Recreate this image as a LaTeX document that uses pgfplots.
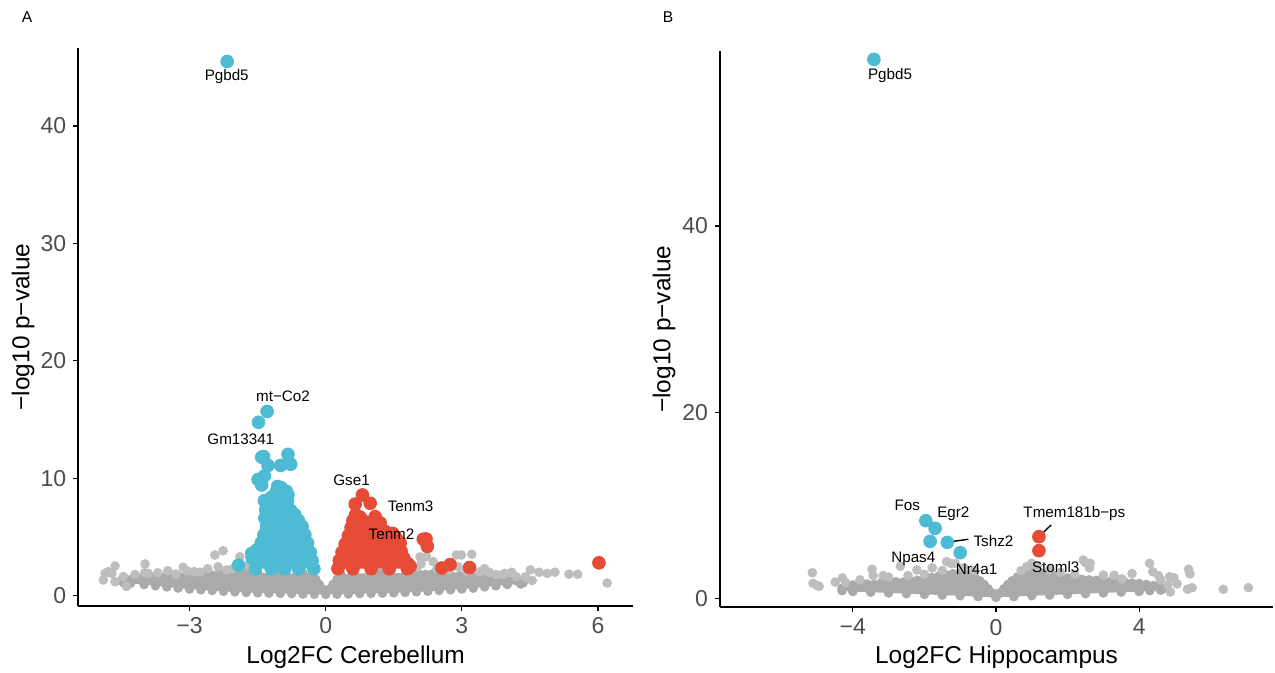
\documentclass[border=0pt]{standalone}
\usepackage{pgfplots}
\pgfplotsset{compat=1.18}
\usepackage{fontspec}
\setmainfont{Liberation Sans}
\definecolor{cgray}{RGB}{170,170,170}
\definecolor{lgray}{RGB}{190,190,190}
\definecolor{cblue}{RGB}{78,187,213}
\definecolor{cred}{RGB}{230,75,53}
\definecolor{tickgray}{RGB}{77,77,77}
\pgfplotsset{
  volc/.style={
    scale only axis, anchor=south west, clip=false,
    axis x line*=bottom, axis y line*=left,
    axis line style={line width=0.9pt,-},
    tick align=outside, major tick length=2.5pt,
    tick style={black,line width=0.6pt},
    minor tick num=0,
    ticklabel style={font=\fontsize{11.5}{13}\selectfont, text=tickgray},
    label style={font=\fontsize{12.2}{14}\selectfont},
  },
}
\tikzset{gene/.style={font=\fontsize{7.6}{9}\selectfont, text=black, inner sep=0pt, anchor=center}}
\begin{document}
\begin{tikzpicture}
\path[use as bounding box] (0,0) rectangle (637.5pt,336.5pt);
\node[font=\fontsize{7.8}{9}\selectfont] at (13.5pt,328pt) {A};
\node[font=\fontsize{7.8}{9}\selectfont] at (334pt,328pt) {B};
% ---------------- Panel A ----------------
\begin{axis}[volc, at={(39.15pt,33.65pt)}, width=277.35pt, height=278.85pt,
  xmin=-5.45, xmax=6.77, ymin=-0.85, ymax=46.65,
  xtick={-3,0,3,6}, xticklabels={−3,0,3,6},
  ytick={0,10,20,30,40}, yticklabels={0,10,20,30,40},
  xlabel={Log2FC Cerebellum}, ylabel={−log10 p−value},
  xlabel style={at={(axis description cs:0.5,-0.1045)}, anchor=base},
  ylabel style={at={(axis description cs:-0.0997,0.5)}, anchor=center},
]
\def\cloudA{(-4.5,1.3) (-4.42,1.45) (-4.3,1.35) (-4.15,1.5) (-4.0,1.4) (-3.85,1.55) (-3.7,1.5) (-3.55,1.6) (-3.4,1.55) (-3.25,1.7) (-3.1,1.6) (-2.95,1.75) (-2.8,1.7) (-2.65,1.8) (-2.5,1.75) (-2.35,1.85) (-2.2,1.8) (-2.05,1.9) (-1.9,1.95) (-1.75,2.0) (-1.5,1.95) (-1.0,1.9) (-0.5,1.9) (-0.3,1.8) (-0.22,1.4) (-0.14,0.95) (-0.07,0.55) (0,0.26) (0.08,0.55) (0.16,0.95) (0.25,1.4) (0.34,1.8) (0.6,1.9) (1.2,1.9) (1.9,1.95) (2.05,1.85) (2.2,1.8) (2.35,1.85) (2.5,1.7) (2.65,1.75) (2.8,1.65) (2.95,1.7) (3.1,1.55) (3.25,1.6) (3.4,1.5) (3.55,1.55) (3.7,1.4) (3.85,1.45) (4.0,1.3) (4.15,1.35) (4.25,1.2) (4.35,1.1)
(4.3,1.0) (4.0,0.95) (3.75,0.85) (3.5,0.75) (3.25,0.65) (3.0,0.57) (2.75,0.5) (2.5,0.45) (2.25,0.38) (2.0,0.33) (1.75,0.28) (1.5,0.25) (1.25,0.22) (1.0,0.2) (0.75,0.18) (0.5,0.15) (0.25,0.13) (0,0.12) (-0.25,0.13) (-0.5,0.15) (-0.75,0.18) (-1.0,0.2) (-1.25,0.22) (-1.5,0.25) (-1.75,0.28) (-2.0,0.33) (-2.25,0.38) (-2.5,0.45) (-2.75,0.5) (-3.0,0.57) (-3.25,0.65) (-3.5,0.75) (-3.75,0.85) (-4.0,0.95) (-4.3,1.05) (-4.45,1.1)}
\addplot[fill=cgray, draw=none] coordinates {\cloudA};
\addplot[only marks, mark=*, mark size=2.2pt, cgray] coordinates {\cloudA};
\addplot[only marks, mark=*, mark size=2.2pt, lgray] coordinates {
(-4.64,2.53) (-4.86,1.9) (-4.79,2.05) (-4.71,1.9) (-4.9,1.34) (-4.64,1.19) (-4.46,1.62) (-4.39,0.8) (-3.98,2.7) (-3.91,1.9) (-3.99,1.95) (-3.48,2.13) (-3.3,1.85) (-3.14,2.42) (-3.05,2.1) (-2.9,2.05) (-2.77,2.0) (-2.44,3.47) (-2.26,3.83) (-2.37,2.47) (-2.18,2.19) (-1.89,3.32) (-4.2,1.8) (-3.7,1.95) (-2.6,2.3) (-1.85,2.5) (-1.7,2.6) (-2.05,2.3)
(2.08,3.3) (2.22,3.32) (2.37,2.9) (2.1,2.7) (2.0,2.4) (2.45,2.3) (2.7,2.2) (2.88,3.47) (2.99,3.47) (3.22,3.53) (2.92,2.47) (3.1,2.1) (3.4,2.04) (3.5,2.3) (3.6,2.0) (3.75,1.8) (3.9,1.8) (3.95,1.9) (4.1,2.0) (4.2,1.6) (4.51,2.2) (4.7,2.0) (4.88,1.9) (5.05,2.0) (5.36,1.83) (5.55,1.83) (6.2,1.08) (4.4,1.6) (4.55,1.3)};
\def\blueA{(-1.55,2.3) (-1.62,3.2) (-1.52,3.9) (-1.42,4.5) (-1.36,5.2) (-1.3,5.9) (-1.34,6.6) (-1.32,7.3) (-1.3,8.0) (-1.19,8.4) (-1.08,8.9) (-0.98,9.2) (-0.87,8.9) (-0.84,8.1) (-0.78,7.3) (-0.68,6.9) (-0.6,6.4) (-0.52,5.9) (-0.46,5.2) (-0.4,4.5) (-0.34,3.7) (-0.3,3.0) (-0.26,2.3) (-0.6,2.3) (-0.9,2.3) (-1.2,2.3)}
\addplot[fill=cblue, draw=none] coordinates {\blueA};
\addplot[only marks, mark=*, mark size=3.2pt, cblue] coordinates {\blueA};
\addplot[only marks, mark=*, mark size=3.2pt, cblue] coordinates {
(-2.17,45.5) (-1.29,15.7) (-1.48,14.77) (-1.41,11.8) (-1.37,11.86) (-0.83,12.04) (-0.77,11.2) (-0.99,11.1) (-1.27,11.1) (-1.49,9.9) (-1.35,10.2) (-1.41,9.43) (-1.06,9.3) (-0.93,8.7) (-0.83,8.6) (-1.35,8.1) (-1.19,8.4) (-1.63,3.6) (-1.92,2.6)};
\def\redA{(0.27,2.3) (0.3,3.0) (0.36,3.7) (0.43,4.4) (0.5,5.1) (0.56,5.8) (0.6,6.4) (0.66,6.9) (0.76,6.7) (0.86,6.3) (0.96,5.9) (1.06,5.8) (1.18,5.9) (1.3,5.5) (1.42,5.3) (1.55,4.9) (1.62,4.4) (1.66,3.8) (1.72,3.2) (1.82,2.7) (1.8,2.3) (1.4,2.3) (1.0,2.3) (0.6,2.3)}
\addplot[fill=cred, draw=none] coordinates {\redA};
\addplot[only marks, mark=*, mark size=3.2pt, cred] coordinates {\redA};
\addplot[only marks, mark=*, mark size=3.2pt, cred] coordinates {
(0.81,8.58) (0.65,7.8) (0.98,7.87) (1.09,6.73) (1.2,6.2) (1.48,5.3) (1.64,4.5) (1.59,4.45) (1.64,3.3) (1.84,2.55) (1.86,2.5) (2.15,4.81) (2.21,4.83) (2.24,4.2) (2.56,2.36) (2.74,2.65) (3.17,2.4) (6.02,2.8)};
\coordinate (a1) at (axis cs:-2.18,44.2);
\coordinate (a2) at (axis cs:-0.94,17.0);
\coordinate (a3) at (axis cs:-1.87,13.3);
\coordinate (a4) at (axis cs:0.57,9.86);
\coordinate (a5) at (axis cs:1.87,7.58);
\coordinate (a6) at (axis cs:1.45,5.25);
\end{axis}
\node[gene] at (a1) {Pgbd5};
\node[gene] at (a2) {mt−Co2};
\node[gene] at (a3) {Gm13341};
\node[gene] at (a4) {Gse1};
\node[gene] at (a5) {Tenm3};
\node[gene] at (a6) {Tenm2};
% ---------------- Panel B ----------------
\begin{axis}[volc, at={(360pt,33pt)}, width=276.5pt, height=277.75pt,
  xmin=-7.71, xmax=7.74, ymin=-0.91, ymax=58.75,
  xtick={-4,0,4}, xticklabels={−4,0,4},
  ytick={0,20,40}, yticklabels={0,20,40},
  xlabel={Log2FC Hippocampus}, ylabel={−log10 p−value},
  xlabel style={at={(axis description cs:0.5,-0.1026)}, anchor=base},
  ylabel style={at={(axis description cs:-0.1013,0.5)}, anchor=center},
]
\def\cloudB{(-4.3,1.1) (-4.15,1.35) (-4.0,1.45) (-3.8,1.4) (-3.6,1.55) (-3.4,1.5) (-3.2,1.7) (-3.0,1.65) (-2.8,1.8) (-2.6,1.75) (-2.4,1.9) (-2.2,1.95) (-2.0,2.1) (-1.8,2.25) (-1.6,2.4) (-1.4,2.55) (-1.2,2.65) (-1.0,2.75) (-0.8,2.6) (-0.6,2.3) (-0.45,1.9) (-0.33,1.5) (-0.22,1.05) (-0.11,0.6) (0,0.26) (0.11,0.6) (0.22,1.05) (0.33,1.5) (0.45,1.9) (0.6,2.3) (0.8,2.6) (1.0,2.8) (1.2,2.85) (1.4,2.65) (1.6,2.5) (1.8,2.35) (2.0,2.2) (2.2,2.15) (2.4,2.05) (2.6,2.0) (2.8,1.95) (3.0,1.85) (3.2,1.85) (3.4,1.75) (3.6,1.75) (3.8,1.65) (4.0,1.6) (4.2,1.5) (4.4,1.4) (4.55,1.2) (4.65,1.0)
(4.6,0.9) (4.3,0.85) (4.0,0.75) (3.5,0.68) (3.0,0.6) (2.5,0.52) (2.0,0.45) (1.5,0.37) (1.0,0.3) (0.5,0.2) (0,0.13) (-0.5,0.2) (-1.0,0.3) (-1.5,0.37) (-2.0,0.45) (-2.5,0.52) (-3.0,0.6) (-3.5,0.68) (-4.0,0.75) (-4.3,0.85)}
\addplot[fill=cgray, draw=none] coordinates {\cloudB};
\addplot[only marks, mark=*, mark size=2.2pt, cgray] coordinates {\cloudB};
\addplot[only marks, mark=*, mark size=2.2pt, lgray] coordinates {
(-5.13,2.78) (-5.11,1.63) (-5.0,1.4) (-4.94,1.31) (-4.49,1.77) (-4.29,2.22) (-4.2,1.7) (-3.46,3.15) (-3.43,2.46) (-3.15,2.46) (-2.67,3.47) (-2.46,2.46) (-2.21,3.06) (-1.78,3.29) (-1.38,3.95) (-1.25,3.75) (-1.13,3.75) (-0.9,3.3) (-2.0,2.6) (-3.0,2.3) (-3.8,2.0) (-1.5,3.0) (-0.6,3.0)
(0.86,3.42) (1.0,3.78) (1.15,3.5) (0.7,3.0) (1.5,3.1) (2.44,4.13) (2.5,3.85) (2.63,3.78) (2.61,3.29) (3.0,2.52) (3.3,2.5) (3.52,2.1) (3.8,2.68) (4.29,3.78) (4.38,2.88) (4.54,2.46) (4.6,2.0) (4.85,2.34) (4.97,2.22) (5.38,3.15) (5.42,2.64) (4.87,0.7) (4.8,1.45) (5.06,1.56) (5.48,1.17) (5.35,1.0) (6.35,0.99) (7.05,1.17) (1.8,2.8) (2.2,2.6)};
\addplot[only marks, mark=*, mark size=3.2pt, cblue] coordinates {
(-3.41,57.9) (-1.96,8.36) (-1.7,7.54) (-1.84,6.14) (-1.36,6.03) (-1.0,4.92)};
\addplot[only marks, mark=*, mark size=3.2pt, cred] coordinates {
(1.2,6.64) (1.2,5.14)};
\addplot[black, line width=0.7pt] coordinates {(-1.28,6.1) (-0.77,6.36)};
\addplot[black, line width=0.7pt] coordinates {(1.25,6.82) (1.54,7.9)};
\coordinate (b1) at (axis cs:-2.96,56.2);
\coordinate (b2) at (axis cs:-2.48,9.97);
\coordinate (b3) at (axis cs:-1.19,9.15);
\coordinate (b4) at (axis cs:-0.07,6.18);
\coordinate (b5) at (axis cs:-2.31,4.24);
\coordinate (b6) at (axis cs:-0.54,3.17);
\coordinate (b7) at (axis cs:2.19,9.15);
\coordinate (b8) at (axis cs:1.67,3.35);
\end{axis}
\node[gene] at (b1) {Pgbd5};
\node[gene] at (b2) {Fos};
\node[gene] at (b3) {Egr2};
\node[gene] at (b4) {Tshz2};
\node[gene] at (b5) {Npas4};
\node[gene] at (b6) {Nr4a1};
\node[gene] at (b7) {Tmem181b−ps};
\node[gene] at (b8) {Stoml3};
\end{tikzpicture}
\end{document}
